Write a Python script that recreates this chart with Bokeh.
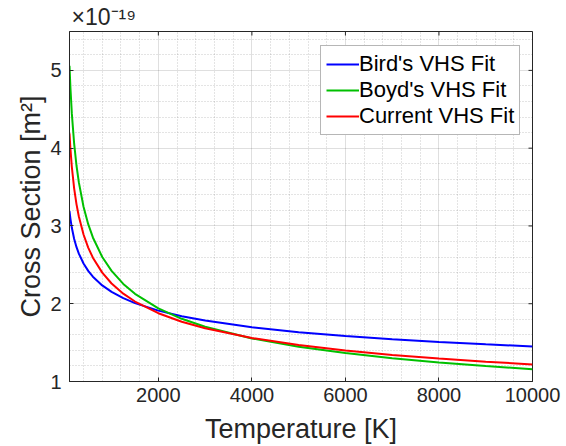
import math
from bokeh.plotting import figure
from bokeh.models import Range1d, FixedTicker, Legend, LegendItem
from bokeh.embed import file_html
from bokeh.resources import INLINE

# Temperature [K]
temperature = [100, 120, 150, 200, 250, 300, 400, 500, 600, 800, 1000, 1250, 1500,
               2000, 2500, 3000, 4000, 5000, 6000, 7000, 8000, 9000, 10000]
# Cross section [x 1e-19 m^2]
bird_vhs = [3.190, 3.092, 2.976, 2.833, 2.727, 2.644, 2.517, 2.422, 2.348, 2.235, 2.152,
            2.071, 2.008, 1.911, 1.840, 1.783, 1.698, 1.634, 1.584, 1.543, 1.508, 1.478, 1.451]
boyd_vhs = [5.060, 4.773, 4.444, 4.054, 3.774, 3.560, 3.247, 3.023, 2.852, 2.601, 2.422,
            2.255, 2.127, 1.940, 1.806, 1.704, 1.554, 1.447, 1.365, 1.299, 1.245, 1.199, 1.159]
current_vhs = [4.190, 3.990, 3.758, 3.480, 3.278, 3.122, 2.890, 2.722, 2.592, 2.400, 2.260,
               2.129, 2.028, 1.878, 1.768, 1.684, 1.559, 1.469, 1.399, 1.342, 1.295, 1.254, 1.220]

series_names = ["Bird's VHS Fit", "Boyd's VHS Fit", "Current VHS Fit"]
series_colors = ["#0000ff", "#00c000", "#ff0000"]

x_ticks = [2000, 4000, 6000, 8000, 10000]
x_minor = [400, 800, 1200, 1600, 2400, 2800, 3200, 3600, 4400, 4800, 5200, 5600,
           6400, 6800, 7200, 7600, 8400, 8800, 9200, 9600]
y_ticks = [1, 2, 3, 4, 5]
y_minor = [1.2, 1.4, 1.6, 1.8, 2.2, 2.4, 2.6, 2.8, 3.2, 3.4, 3.6, 3.8,
           4.2, 4.4, 4.6, 4.8, 5.2, 5.4]
x_lo, x_hi = 100, 10000
y_lo, y_hi = 1, 5.5

FONT = "Liberation Sans"
TXT = "#262626"

p = figure(width=566, height=446, output_backend="svg", toolbar_location=None,
           x_range=Range1d(x_lo, x_hi), y_range=Range1d(y_lo, y_hi),
           min_border_left=69, min_border_right=34, min_border_top=29, min_border_bottom=64)
p.background_fill_color = "white"
p.border_fill_color = "white"
p.outline_line_color = TXT
p.outline_line_width = 1

# exponent of the y axis as the title
p.title.text = "×10⁻¹⁹"
p.title.align = "left"
p.title.offset = 2
p.title.standoff = 3
p.title.text_font = FONT
p.title.text_font_size = "23px"
p.title.text_font_style = "normal"
p.title.text_color = TXT

# axes
for ax in (p.xaxis[0], p.yaxis[0]):
    ax.major_tick_in = 4
    ax.major_tick_out = 0
    ax.minor_tick_in = 0
    ax.minor_tick_out = 0
    ax.axis_line_color = TXT
    ax.major_tick_line_color = TXT
    ax.major_label_text_font = FONT
    ax.major_label_text_font_size = "20px"
    ax.major_label_text_color = TXT
    ax.axis_label_text_font = FONT
    ax.axis_label_text_font_size = "27px"
    ax.axis_label_text_font_style = "normal"
    ax.axis_label_text_color = TXT

p.xaxis[0].ticker = FixedTicker(ticks=x_ticks, minor_ticks=x_minor)
p.yaxis[0].ticker = FixedTicker(ticks=y_ticks, minor_ticks=y_minor)
p.xaxis[0].axis_label = "Temperature [K]"
p.yaxis[0].axis_label = "Cross Section [m²]"
p.xaxis[0].major_label_standoff = 6
p.xaxis[0].axis_label_standoff = 9
p.yaxis[0].major_label_standoff = 8
p.yaxis[0].axis_label_standoff = 1

# grids
for g in (p.xgrid[0], p.ygrid[0]):
    g.grid_line_color = TXT
    g.grid_line_alpha = 0.15
    g.minor_grid_line_color = TXT
    g.minor_grid_line_alpha = 0.25
    g.minor_grid_line_dash = "1 2"
p.xgrid[0].ticker = FixedTicker(ticks=x_ticks, minor_ticks=x_minor)
p.ygrid[0].ticker = FixedTicker(ticks=y_ticks, minor_ticks=y_minor)

# inward tick marks on the top and right edges of the box (half clipped by the frame)
p.scatter(x=x_ticks, y=[y_hi] * len(x_ticks), marker="dash", size=8, angle=math.pi / 2,
          line_color=TXT, line_width=1)
p.scatter(x=[x_hi] * len(y_ticks), y=y_ticks, marker="dash", size=8, angle=0,
          line_color=TXT, line_width=1)

items = []
for ys, name, col in zip([bird_vhs, boyd_vhs, current_vhs], series_names, series_colors):
    r = p.line(temperature, ys, line_color=col, line_width=2)
    items.append(LegendItem(label=name, renderers=[r]))

legend = Legend(items=items, location=(251, 246), orientation="vertical",
                label_text_font=FONT, label_text_font_size="22px", label_text_color="black",
                glyph_width=33, glyph_height=20, label_height=20, label_standoff=0,
                spacing=-7, padding=5, margin=0,
                border_line_color="#6e6e6e", border_line_width=1,
                background_fill_color="white", background_fill_alpha=1)
p.add_layout(legend, "center")

open("out.html", "w").write(file_html(p, INLINE))
